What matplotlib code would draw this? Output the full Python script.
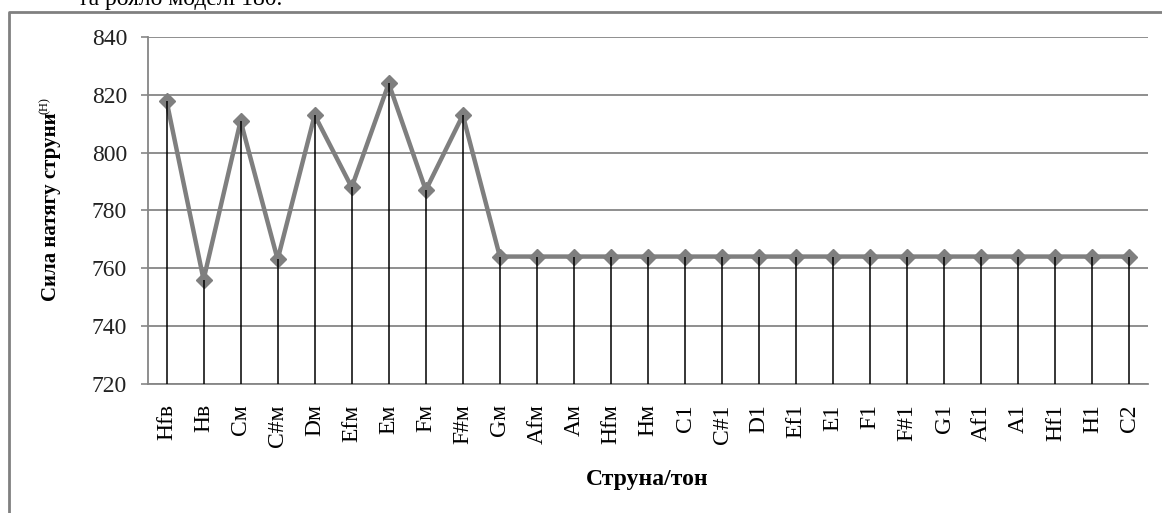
import matplotlib.pyplot as plt
from matplotlib.lines import Line2D

# strings / tones and string tension (N)
tones = ['Hfв', 'Hв', 'Cм', 'C#м', 'Dм', 'Efм', 'Eм', 'Fм', 'F#м', 'Gм', 'Afм', 'Aм', 'Hfм', 'Hм',
         'C1', 'C#1', 'D1', 'Ef1', 'E1', 'F1', 'F#1', 'G1', 'Af1', 'A1', 'Hf1', 'H1', 'C2']
tension = [818, 756, 811, 763, 813, 788, 824, 787, 813, 764, 764, 764, 764, 764,
           764, 764, 764, 764, 764, 764, 764, 764, 764, 764, 764, 764, 764]
y_ticks = [720, 740, 760, 780, 800, 820, 840]

plt.rcParams['font.family'] = ['Liberation Serif', 'DejaVu Serif']

W, H = 1162, 513
fig = plt.figure(figsize=(W / 100, H / 100), dpi=100)
ax = fig.add_axes([148 / W, 1 - 383.5 / H, 1000 / W, (383.5 - 37.3) / H])

x = list(range(len(tones)))
grey = '#868686'

ax.plot(x, tension, color='#7f7f7f', lw=3.2, marker='D', markersize=8, zorder=3)
ax.vlines(x, 720, tension, color='black', lw=1.1, zorder=4)

ax.set_xlim(-0.5, len(tones) - 0.5)
ax.set_ylim(720, 840)
ax.set_yticks(y_ticks)
ax.set_xticks(x)
ax.set_xticklabels(tones, rotation=90, fontsize=17)
ax.tick_params(axis='x', length=0, pad=15)
ax.tick_params(axis='y', length=5, width=1.2, color=grey, pad=10, labelsize=17, labelcolor='#222222')
ax.grid(axis='y', color=grey, lw=1.3)
ax.set_axisbelow(True)
for s in ['top', 'right']:
    ax.spines[s].set_visible(False)
for s in ['left', 'bottom']:
    ax.spines[s].set_color(grey)
    ax.spines[s].set_linewidth(1.3)

# axis titles
fig.text(51 / W, 1 - 207 / H, 'Сила натягу струни', rotation=90, fontsize=15, fontweight='bold',
         ha='center', va='center')
fig.text(45 / W, 1 - 106 / H, '(Н)', rotation=90, fontsize=9, ha='center', va='center')
fig.text(647 / W, 1 - 480 / H, 'Струна/тон', fontsize=17, fontweight='bold', ha='center', va='center')

# text of the page above the chart, cut off
fig.text(78 / W, 1 - 5 / H, 'та рояло моделі 180.', fontsize=17, ha='left', va='baseline')

# chart frame
fig.add_artist(Line2D([9 / W, 9 / W, 1.01], [-0.01, 1 - 12 / H, 1 - 12 / H],
                      color='#808080', lw=2))

fig.savefig('out.png', dpi=100)
